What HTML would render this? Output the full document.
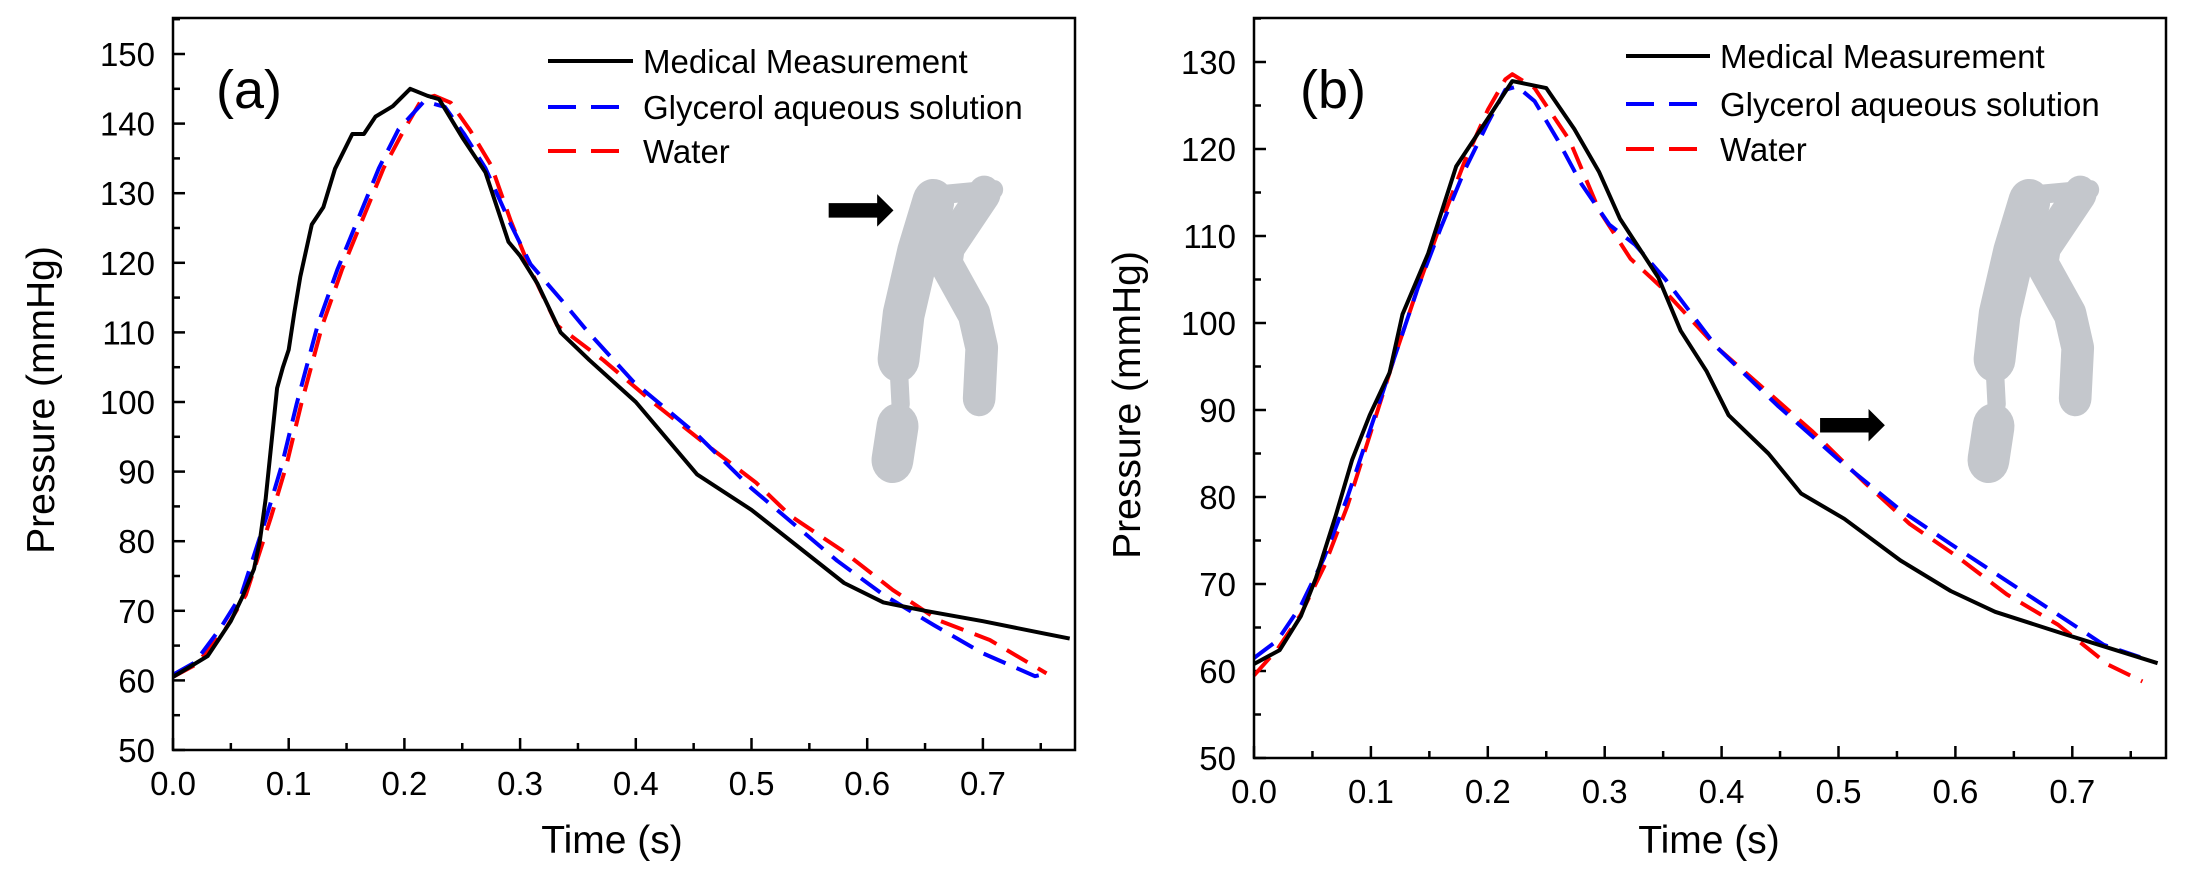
<!DOCTYPE html>
<html><head><meta charset="utf-8"><style>
html,body{margin:0;padding:0;background:#fff}
svg{display:block;font-family:"Liberation Sans",Arial,sans-serif}
</style></head><body>
<svg id="s" width="2190" height="880" viewBox="0 0 2190 880" xmlns="http://www.w3.org/2000/svg">
<g id="plots"></g>
<g transform="translate(770,0) scale(0.5102,0.561)">
 <g stroke="#c4c7cc" stroke-linecap="round" stroke-linejoin="round" fill="none">
  <path d="M320,360 L290,450 L262,560 L252,640" stroke-width="82"/>
  <path d="M252,650 L256,720" stroke-width="36"/>
  <path d="M250,760 L240,820" stroke-width="82"/>
  <path d="M420,345 L350,440 L345,470 L400,560 L415,620 L410,710" stroke-width="64"/>
  <path d="M300,350 L440,338" stroke-width="34"/>
 </g>
 <path d="M115,362 L210,362 L210,346 L242,375 L210,404 L210,388 L115,388 Z" fill="#000"/>
</g>
<g transform="translate(1866,0) scale(0.5102,0.561)">
 <g stroke="#c4c7cc" stroke-linecap="round" stroke-linejoin="round" fill="none">
  <path d="M320,360 L290,450 L262,560 L252,640" stroke-width="82"/>
  <path d="M252,650 L256,720" stroke-width="36"/>
  <path d="M250,760 L240,820" stroke-width="82"/>
  <path d="M420,345 L350,440 L345,470 L400,560 L415,620 L410,710" stroke-width="64"/>
  <path d="M300,350 L440,338" stroke-width="34"/>
 </g>
 <path d="M-90,745 L5,745 L5,729 L37,758 L5,787 L5,771 L-90,771 Z" fill="#000"/>
</g>
</svg>
<script>
const NS="http://www.w3.org/2000/svg";
const root=document.getElementById('plots');
function el(t,a,txt){const e=document.createElementNS(NS,t);for(const k in a)e.setAttribute(k,a[k]);if(txt!==undefined)e.textContent=txt;root.appendChild(e);return e;}
function plot(P){
 const X=t=>P.x0+t*P.sx, Y=p=>P.y0-(p-50)*P.sy;
 for(let i=0;i<=15;i++){const t=i*0.05;const x=X(t);if(x>P.right)break;const maj=i%2==0;
  el('line',{x1:x,y1:P.y0,x2:x,y2:P.y0-(maj?12:7),stroke:'#000','stroke-width':2.5});
  if(maj)el('text',{x:x,y:P.y0+45,'font-size':33,'text-anchor':'middle'},t.toFixed(1));}
 for(let v=50;v<=P.ymax;v+=5){const y=Y(v);const maj=v%10==0;
  el('line',{x1:P.x0,y1:y,x2:P.x0+(maj?12:7),y2:y,stroke:'#000','stroke-width':2.5});
  if(maj)el('text',{x:P.x0-18,y:y+12,'font-size':33,'text-anchor':'end'},v);}
 el('text',{x:P.xl,y:853,'font-size':39,'text-anchor':'middle'},'Time (s)');
 el('text',{x:0,y:0,'font-size':39,'text-anchor':'middle',transform:`translate(${P.yl},${P.ylc}) rotate(-90)`},'Pressure (mmHg)');
 el('text',{x:P.lab[0],y:108,'font-size':54},P.name);
 const ser=[[P.w,'#f00','24,12'],[P.g,'#00f','24,12'],[P.m,'#000','']];
 for(const [d,c,da] of ser){el('polyline',{points:d.map(q=>X(q[0]).toFixed(1)+','+Y(q[1]).toFixed(1)).join(' '),fill:'none',stroke:c,'stroke-width':4,'stroke-dasharray':da,'stroke-linejoin':'round'});}
 const L=P.leg;const names=['Medical Measurement','Glycerol aqueous solution','Water'];const cols=['#000','#00f','#f00'];
 for(let i=0;i<3;i++){const y=L[2]+L[3][i];
  el('line',{x1:L[0],y1:y,x2:L[1],y2:y,stroke:cols[i],'stroke-width':4,'stroke-dasharray':i?'28,15':''});
  el('text',{x:L[1]+10,y:y+12,'font-size':33},names[i]);}
 el('rect',{x:P.x0,y:P.top,width:P.right-P.x0,height:P.y0-P.top,fill:'none',stroke:'#000','stroke-width':2.5});
}
plot({x0:173,y0:750,top:18,right:1075,sx:1157,sy:6.96,ymax:155,xl:612,yl:54,ylc:400,lab:[216],name:'(a)',leg:[548,633,61,[0,46,90]],
 m:[[0,60.5],[0.015,62],[0.03,63.5],[0.04,66],[0.05,68.5],[0.06,72],[0.07,76],[0.075,80],[0.08,86],[0.09,102],[0.095,105],[0.1,107.5],[0.105,113],[0.11,118],[0.12,125.5],[0.13,128],[0.14,133.5],[0.155,138.5],[0.165,138.5],[0.175,141],[0.19,142.5],[0.205,145],[0.22,144],[0.23,143.5],[0.25,138],[0.27,133],[0.29,123],[0.3,121],[0.315,117],[0.335,110],[0.36,106],[0.4,100],[0.453,89.6],[0.5,84.5],[0.58,74],[0.614,71.2],[0.65,70],[0.7,68.5],[0.745,67],[0.775,66]],
 g:[[0,60.8],[0.019,62.6],[0.041,67.5],[0.059,72.3],[0.081,83.6],[0.094,90.9],[0.107,99.8],[0.125,111],[0.142,119],[0.16,126.3],[0.178,133.6],[0.195,139.2],[0.217,143.2],[0.235,142.4],[0.252,138.4],[0.27,133.6],[0.292,125.5],[0.309,119.8],[0.336,114.6],[0.358,110.2],[0.398,102.9],[0.453,95.3],[0.5,87.6],[0.574,77.2],[0.614,72.3],[0.658,67.9],[0.7,63.9],[0.745,60.6],[0.755,61]],
 w:[[0,60.5],[0.02,62.3],[0.045,67.3],[0.063,72.3],[0.085,83.6],[0.098,90.9],[0.111,99.8],[0.129,111],[0.146,119],[0.164,126.3],[0.182,133.6],[0.2,139.2],[0.215,143.5],[0.226,144],[0.24,143],[0.257,139],[0.275,134],[0.292,126],[0.309,119],[0.332,111],[0.372,106],[0.416,99.8],[0.46,94],[0.504,88.4],[0.534,83.6],[0.578,78.7],[0.622,73],[0.662,68.6],[0.706,65.8],[0.755,61]]
});
plot({x0:1254,y0:758,top:18,right:2166,sx:1169,sy:8.7,ymax:135,xl:1709,yl:1140,ylc:405,lab:[1300],name:'(b)',leg:[1626,1710,56,[0,48,93]],
 m:[[0,60.8],[0.022,62.4],[0.04,66.3],[0.053,70.7],[0.07,77.9],[0.084,84.3],[0.099,89.4],[0.116,94.3],[0.127,101],[0.149,108],[0.173,118],[0.2,123.5],[0.221,127.8],[0.25,127],[0.274,122.3],[0.295,117.4],[0.313,112],[0.346,105.2],[0.365,99.1],[0.387,94.5],[0.406,89.4],[0.44,85],[0.468,80.4],[0.505,77.5],[0.553,72.7],[0.596,69.2],[0.634,66.8],[0.692,64.3],[0.773,60.9]],
 g:[[0,61.5],[0.02,63.5],[0.04,67.5],[0.06,73],[0.08,80],[0.1,88],[0.12,96],[0.14,104],[0.16,111],[0.18,117.5],[0.2,123],[0.215,126.8],[0.225,127.2],[0.24,125.5],[0.26,121],[0.28,116],[0.304,111.3],[0.326,109],[0.352,105],[0.396,97.2],[0.448,90.5],[0.5,84.3],[0.553,78.5],[0.596,74.6],[0.64,70.7],[0.683,66.9],[0.727,63],[0.758,61.6]],
 w:[[0,59.5],[0.02,62.5],[0.04,66.5],[0.06,72],[0.08,79],[0.1,87.5],[0.12,96],[0.14,104],[0.16,111.5],[0.18,118.5],[0.2,124.5],[0.215,128],[0.221,128.6],[0.24,127],[0.26,123],[0.27,121],[0.295,113],[0.322,107.4],[0.347,104.3],[0.396,97.2],[0.44,92],[0.478,87.5],[0.522,81.7],[0.561,76.9],[0.6,73.3],[0.644,68.8],[0.688,65.3],[0.731,60.7],[0.76,58.8]]
});
</script>
</body></html>
